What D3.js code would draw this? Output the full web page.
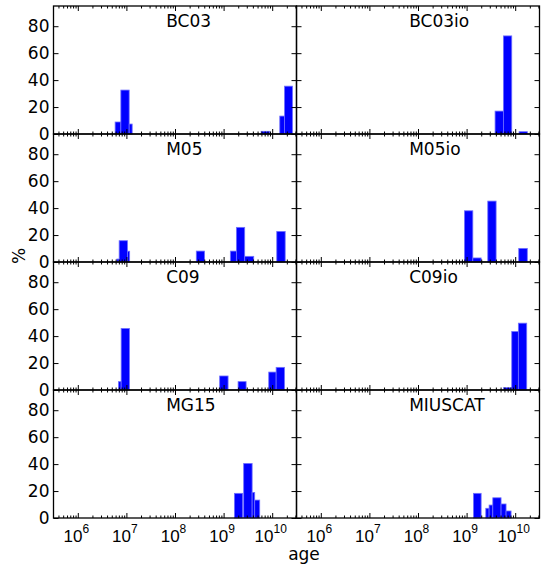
<!DOCTYPE html>
<html>
<head>
<meta charset="utf-8">
<script src="https://cdn.jsdelivr.net/npm/d3@7"></script>
<style>
  html, body { margin: 0; padding: 0; background: #fff; }
  svg { display: block; font-family: "DejaVu Sans", sans-serif; }
</style>
</head>
<body>
<svg id="chart" width="553" height="568"></svg>
<script>
// Model names, in panel order (row by row, left then right)
const models = ["BC03", "BC03io", "M05", "M05io", "C09", "C09io", "MG15", "MIUSCAT"];

// Age bins per model as [log10 age lo, log10 age hi], with the percentage in each bin
const binsBC03 = [[6.768, 6.886], [6.886, 7.057], [7.057, 7.119], [9.772, 9.950], [10.156, 10.253], [10.253, 10.418]];
const pctBC03  = [8.9, 32.6, 7.4, 2.0, 13.3, 35.5];

const binsBC03io = [[9.586, 9.757], [9.757, 9.929], [10.079, 10.250]];
const pctBC03io  = [17.0, 72.8, 1.7];

const binsM05 = [[6.803, 6.851], [6.851, 7.022], [7.022, 7.067], [8.438, 8.609], [9.139, 9.263], [9.263, 9.434], [9.434, 9.620], [10.094, 10.267]];
const pctM05  = [2.2, 15.8, 8.0, 8.1, 8.1, 25.7, 4.2, 22.7];

const binsM05io = [[8.956, 9.128], [9.128, 9.299], [9.436, 9.607], [10.073, 10.249]];
const pctM05io  = [38.0, 3.0, 45.2, 10.1];

const binsC09 = [[6.836, 6.892], [6.892, 7.063], [8.919, 9.092], [9.298, 9.463], [9.929, 10.081], [10.081, 10.253]];
const pctC09  = [6.2, 45.7, 10.4, 6.2, 13.3, 16.8];

const binsC09io = [[9.757, 9.929], [9.929, 10.065], [10.065, 10.237]];
const pctC09io  = [1.7, 43.4, 49.6];

const binsMG15 = [[9.222, 9.393], [9.413, 9.587], [9.587, 9.640], [9.640, 9.743]];
const pctMG15  = [18.3, 40.5, 19.0, 13.3];

const binsMIUSCAT = [[9.141, 9.299], [9.395, 9.463], [9.463, 9.539], [9.539, 9.709], [9.709, 9.812], [9.812, 9.915]];
const pctMIUSCAT  = [18.3, 7.2, 9.6, 15.0, 10.4, 5.2];

// Axis settings
const yTicks = [0, 20, 40, 60, 80];
const xMajorExp = [6, 7, 8, 9, 10];
const xDomainExp = [5.5, 10.5];
const yDomain = [0, 95];

const panelBins = [binsBC03, binsBC03io, binsM05, binsM05io, binsC09, binsC09io, binsMG15, binsMIUSCAT];
const panelPct  = [pctBC03, pctBC03io, pctM05, pctM05io, pctC09, pctC09io, pctMG15, pctMIUSCAT];

// Layout
const colX = [53.5, 296.5];
const panelW = 243;
const rowY0 = 6;
const panelH = 128;
const fontSize = 17;

const svg = d3.select("#chart");

const x = d3.scaleLog()
  .domain([Math.pow(10, xDomainExp[0]), Math.pow(10, xDomainExp[1])])
  .range([0, panelW]);
const y = d3.scaleLinear().domain(yDomain).range([panelH, 0]);

// Minor tick positions: 2..9 x 10^k inside the domain
const minorTicks = [];
for (let k = 5; k <= 10; k++) {
  for (let m = 2; m <= 9; m++) {
    const v = m * Math.pow(10, k);
    if (v > x.domain()[0] && v < x.domain()[1]) minorTicks.push(v);
  }
}
const majorTicks = xMajorExp.map(e => Math.pow(10, e));

models.forEach((name, i) => {
  const col = i % 2, row = Math.floor(i / 2);
  const g = svg.append("g")
    .attr("transform", `translate(${colX[col]},${rowY0 + row * panelH})`);

  // bars
  const bins = panelBins[i], pct = panelPct[i];
  g.append("g").selectAll("rect")
    .data(bins.map((b, j) => ({ lo: b[0], hi: b[1], v: pct[j] })))
    .join("rect")
    .attr("x", d => x(Math.pow(10, d.lo)))
    .attr("width", d => x(Math.pow(10, d.hi)) - x(Math.pow(10, d.lo)))
    .attr("y", d => y(d.v))
    .attr("height", d => y(0) - y(d.v))
    .attr("fill", "#0000ff")
    .attr("stroke", "#7070ff")
    .attr("stroke-width", 0.8);

  // inward ticks on all four sides
  const styleAxis = sel => {
    sel.select(".domain").remove();
    sel.selectAll(".tick line").attr("stroke", "#000").attr("stroke-width", 1);
  };

  g.append("g").attr("transform", `translate(0,${panelH})`)
    .call(d3.axisBottom(x).tickValues(minorTicks).tickSize(-2.5).tickFormat(""))
    .call(styleAxis);
  g.append("g")
    .call(d3.axisTop(x).tickValues(minorTicks).tickSize(-2.5).tickFormat(""))
    .call(styleAxis);
  g.append("g")
    .call(d3.axisTop(x).tickValues(majorTicks).tickSize(-5).tickFormat(""))
    .call(styleAxis);

  const bottomMajor = g.append("g").attr("transform", `translate(0,${panelH})`)
    .call(d3.axisBottom(x).tickValues(majorTicks).tickSize(-5).tickFormat(""))
    .call(styleAxis);

  // exponent labels on the bottom row only
  if (row === 3) {
    bottomMajor.selectAll(".tick").each(function (d) {
      const t = d3.select(this).append("text")
        .attr("x", -2)
        .attr("y", 23.5)
        .attr("fill", "#000")
        .attr("text-anchor", "middle")
        .style("font-size", fontSize + "px");
      t.append("tspan").text("10");
      t.append("tspan")
        .attr("dy", -8.5)
        .style("font-size", "12px")
        .text(Math.round(Math.log10(d)));
    });
  }

  const leftAx = g.append("g")
    .call(d3.axisLeft(y).tickValues(yTicks).tickSize(-5).tickPadding(4)
      .tickFormat(col === 0 ? d3.format("d") : () => ""))
    .call(styleAxis);
  leftAx.selectAll(".tick text")
    .attr("fill", "#000")
    .style("font-size", fontSize + "px")
    .style("font-family", "DejaVu Sans, sans-serif");

  g.append("g").attr("transform", `translate(${panelW},0)`)
    .call(d3.axisRight(y).tickValues(yTicks).tickSize(-5).tickFormat(""))
    .call(styleAxis);

  // frame
  g.append("rect")
    .attr("width", panelW).attr("height", panelH)
    .attr("fill", "none").attr("stroke", "#000").attr("stroke-width", 1.3);

  // panel title
  g.append("text")
    .attr("x", 112.7).attr("y", 21)
    .attr("fill", "#000")
    .style("font-size", fontSize + "px")
    .text(name);
});

// axis titles
svg.append("text")
  .attr("x", 304).attr("y", 560)
  .attr("text-anchor", "middle")
  .style("font-size", fontSize + "px")
  .text("age");

svg.append("text")
  .attr("transform", "translate(25,256) rotate(-90)")
  .attr("text-anchor", "middle")
  .style("font-size", fontSize + "px")
  .text("%");
</script>
</body>
</html>
